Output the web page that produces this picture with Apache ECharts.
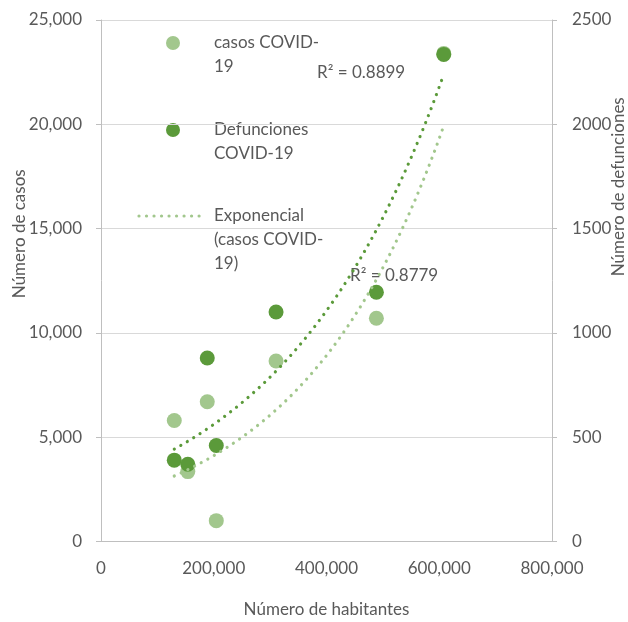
<!DOCTYPE html>
<html>
<head>
<meta charset="utf-8">
<script src="https://cdn.jsdelivr.net/npm/echarts@6/dist/echarts.min.js"></script>
<style>
html,body{margin:0;padding:0;background:#fff;}
#chart{width:628px;height:622px;}
</style>
</head>
<body>
<div id="chart"></div>
<script>
// ---- data ----
const habitantes  = [130000, 154000, 188500, 204500, 310500, 488500, 608000];
const casos       = [5800, 3350, 6700, 1000, 8650, 10700, 23400];
const defunciones = [390, 370, 880, 460, 1100, 1195, 2335];
const xTicks = [0, 200000, 400000, 600000, 800000];
const r2Casos = 'R² = 0.8779';
const r2Def = 'R² = 0.8899';

// ---- exponential least-squares fit (Excel trendline) ----
function expFit(xs, ys) {
  const n = xs.length;
  const ls = ys.map(Math.log);
  const mx = xs.reduce((a, b) => a + b, 0) / n;
  const ml = ls.reduce((a, b) => a + b, 0) / n;
  let sxy = 0, sxx = 0;
  for (let i = 0; i < n; i++) { sxy += (xs[i] - mx) * (ls[i] - ml); sxx += (xs[i] - mx) ** 2; }
  const b = sxy / sxx, lnA = ml - b * mx;
  const lo = Math.min(...xs), hi = Math.max(...xs);
  const pts = [];
  const steps = 80;
  for (let k = 0; k <= steps; k++) {
    const x = lo + (hi - lo) * k / steps;
    pts.push([x, Math.exp(lnA + b * x)]);
  }
  return pts;
}

const LIGHT = '#a2c78d';
const DARK = '#5b9a3a';
const TXT = '#595959';
const FONT = 'Lato';
const FS = 17;

const casosPts = habitantes.map((x, i) => [x, casos[i]]);
const defPts = habitantes.map((x, i) => [x, defunciones[i]]);
const fmt = v => v.toLocaleString('en-US');

const chart = echarts.init(document.getElementById('chart'), null, {renderer: 'canvas'});
const dotted = [0.01, 7.5];

const option = {
  animation: false,
  backgroundColor: '#fff',
  textStyle: {fontFamily: FONT, color: TXT},
  grid: {left: 101, right: 76, top: 20, bottom: 80.5, containLabel: false, outerBoundsMode: 'none'},
  xAxis: {
    type: 'value', min: 0, max: 800000, interval: 200000,
    axisLine: {show: true, onZero: false, lineStyle: {color: '#bfbfbf', width: 1}},
    axisTick: {show: false},
    splitLine: {show: false},
    axisLabel: {color: TXT, fontSize: FS, fontFamily: FONT, margin: 19, formatter: fmt},
    name: 'Número de habitantes', nameLocation: 'middle', nameGap: 60, nameMoveOverlap: false,
    nameTextStyle: {color: TXT, fontSize: FS, fontFamily: FONT}
  },
  yAxis: [
    {
      type: 'value', min: 0, max: 25000, interval: 5000, position: 'left',
      axisLine: {show: true, lineStyle: {color: '#bfbfbf', width: 1}},
      axisTick: {show: true, length: 5, lineStyle: {color: '#bfbfbf'}},
      splitLine: {show: true, lineStyle: {color: '#d9d9d9', width: 1}},
      axisLabel: {color: TXT, fontSize: FS, fontFamily: FONT, margin: 19, formatter: fmt},
      name: 'Número de casos', nameLocation: 'middle', nameGap: 73, nameMoveOverlap: false,
      nameTextStyle: {color: TXT, fontSize: FS, fontFamily: FONT, padding: [0, 0, 0, 94]}
    },
    {
      type: 'value', min: 0, max: 2500, interval: 500, position: 'right',
      axisLine: {show: true, lineStyle: {color: '#bfbfbf', width: 1}},
      axisTick: {show: true, length: 5, lineStyle: {color: '#bfbfbf'}},
      splitLine: {show: false},
      axisLabel: {color: TXT, fontSize: FS, fontFamily: FONT, margin: 20, formatter: v => String(v)},
      name: 'Número de defunciones', nameLocation: 'middle', nameGap: 58, nameMoveOverlap: false,
      nameTextStyle: {color: TXT, fontSize: FS, fontFamily: FONT, padding: [0, 0, 0, 188]}
    }
  ],
  series: [
    {
      name: 'casos COVID-19', type: 'scatter', yAxisIndex: 0, data: casosPts,
      symbolSize: 15, itemStyle: {color: LIGHT, opacity: 1}, z: 2
    },
    {
      name: 'Defunciones COVID-19', type: 'scatter', yAxisIndex: 1, data: defPts,
      symbolSize: 15, itemStyle: {color: DARK, opacity: 1}, z: 3
    },
    {
      name: 'Exponencial (casos COVID-19)', type: 'line', yAxisIndex: 0, data: expFit(habitantes, casos),
      showSymbol: false, symbol: 'none', smooth: false, z: 4,
      lineStyle: {color: LIGHT, width: 3.2, type: dotted, cap: 'round'}
    },
    {
      name: 'Exponencial (Defunciones COVID-19)', type: 'line', yAxisIndex: 1, data: expFit(habitantes, defunciones),
      showSymbol: false, symbol: 'none', smooth: false, z: 4,
      lineStyle: {color: DARK, width: 3.2, type: dotted, cap: 'round'}
    }
  ],
  graphic: [
    // legend
    {type: 'circle', shape: {cx: 173, cy: 43, r: 7}, style: {fill: LIGHT}},
    {type: 'text', left: 214, top: 31, style: {text: 'casos COVID-\n19', fill: TXT, font: FS + 'px ' + FONT, lineHeight: 24}},
    {type: 'circle', shape: {cx: 173, cy: 130, r: 7}, style: {fill: DARK}},
    {type: 'text', left: 214, top: 118, style: {text: 'Defunciones\nCOVID-19', fill: TXT, font: FS + 'px ' + FONT, lineHeight: 24}},
    {type: 'line', shape: {x1: 139, y1: 216, x2: 205, y2: 216},
      style: {stroke: LIGHT, lineWidth: 3.2, lineDash: dotted, lineCap: 'round'}},
    {type: 'text', left: 214, top: 204, style: {text: 'Exponencial\n(casos COVID-\n19)', fill: TXT, font: FS + 'px ' + FONT, lineHeight: 24}},
    // R² labels
    {type: 'text', left: 317, top: 64, style: {text: r2Def, fill: TXT, font: FS + 'px ' + FONT}},
    {type: 'text', left: 350, top: 267, style: {text: r2Casos, fill: TXT, font: FS + 'px ' + FONT}}
  ]
};
chart.setOption(option);
</script>
</body>
</html>
